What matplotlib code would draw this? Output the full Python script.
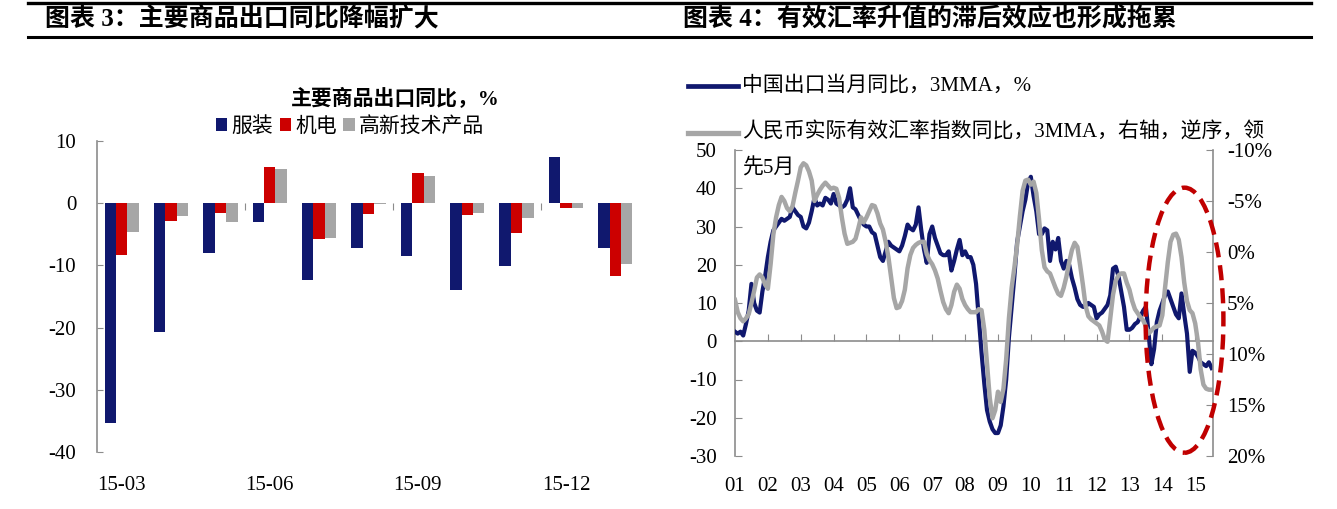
import numpy as np
import matplotlib
matplotlib.use('Agg')
import matplotlib.pyplot as plt
from matplotlib.patches import Ellipse, Patch
from matplotlib.lines import Line2D

MIX = ['Liberation Serif', 'Noto Sans CJK SC']
plt.rcParams['font.family'] = MIX

# ---------------- left chart data ----------------
bar_months = ['15-03', '15-04', '15-05', '15-06', '15-07', '15-08',
              '15-09', '15-10', '15-11', '15-12', '16-01']
bar_series_names = ['服装', '机电', '高新技术产品']
apparel = [-35.4, -20.7, -8.0, -3.0, -12.3, -7.2, -8.5, -13.9, -10.1, 7.4, -7.2]
electro = [-8.4, -2.9, -1.5, 5.9, -5.8, -1.7, 4.9, -1.9, -4.8, -0.7, -11.7]
hitech = [-4.7, -2.0, -3.1, 5.5, -5.6, -0.1, 4.4, -1.6, -2.3, -0.85, -9.8]
bar_yticks = [10, 0, -10, -20, -30, -40]

# ---------------- right chart data ----------------
year_labels = ['01', '02', '03', '04', '05', '06', '07', '08',
               '09', '10', '11', '12', '13', '14', '15']
export_yoy = [
    2.5, 2, 2.5, 1.5, 4.5, 8, 15, 10, 8, 7.5, 13, 17,
    22, 26, 29, 30, 31, 32, 31.5, 32, 32.5, 35, 34, 33,
    32.5, 30, 29.5, 31, 34, 37.5, 35.5, 36, 35.5, 37.5, 37, 36,
    38.5, 36, 35.5, 35, 35.5, 37, 40, 35, 34.5, 33, 31.5, 30.5,
    30, 30, 28.5, 28, 25, 22, 21, 23.5, 26, 25, 24.5, 24,
    23.5, 25, 27.5, 30.5, 29.5, 29, 30.5, 35, 29, 24, 20.5, 28,
    30, 27, 25, 23, 22.5, 22.5, 23.5, 18.5, 21, 24, 26.5, 22.5,
    23.5, 22, 22, 20, 15, 6, -3, -11, -18, -21, -23, -24,
    -24, -22, -17, -10, 1, 9, 17, 26, 30, 34, 37, 41.5,
    43, 38, 34, 28, 28, 29.5, 29, 21, 26, 24, 27, 21,
    19, 21, 20, 16.5, 14, 11, 9.5, 9, 9, 10, 9.5, 9,
    6, 7, 7.5, 8.5, 9.5, 12, 19, 19.5, 17, 13, 9, 3,
    3, 3.5, 4.5, 5, 6.5, 8, 9, 2, -6, -2, 5, 8,
    10, 12, 13, 11, 9, 7, 6, 12.5, 7, 2, -8, -2.5,
    -3, -4, -5.5, -6, -6.5, -5.5, -7]
reer_yoy_lead5 = [
    4.7, 5.9, 6.5, 6.8, 6.5, 6.1, 5.0, 3.8, 2.5, 2.2, 2.5, 3.2,
    3.6, 1.2, -1.7, -3.4, -4.6, -5.4, -5, -4.3, -4, -4.5, -5.8, -7,
    -8.3, -8.7, -8.5, -7.9, -7, -5, -5.6, -6.1, -6.5, -6.8, -6.5, -6.2,
    -6.3, -6.2, -5.3, -3.4, -1.8, -0.8, -0.9, -1, -1.3, -2.3, -3.4, -2.9,
    -3.4, -4, -4.6, -4.5, -3.8, -2.8, -2.2, -1, 0.5, 2.5, 4.5, 5.5,
    5.4, 4.8, 3.7, 1.6, 0.3, -0.4, -0.7, -0.9, -1, -1, 0.2, 0.8,
    1.2, 1.8, 2.6, 3.8, 4.9, 5.6, 6, 5.2, 3.9, 3.2, 3.6, 4.6,
    5.2, 5.6, 5.9, 5.9, 5.9, 5.6, 5.7, 7.6, 11, 14.3, 16.3, 15.5,
    13.7, 14.7, 13.4, 10.5, 6.5, 3.5, 1.5, -0.7, -3.5, -6, -7, -7.1,
    -6.6, -6.9, -5.8, -3.2, -0.2, 1.5, 1.9, 2.1, 2.8, 3.5, 4.1, 4.3,
    3.5, 2.4, 1, -0.2, -0.9, -0.5, 1.3, 3.2, 5.3, 6.3, 6.6, 6.8,
    7, 7.2, 7.8, 8.6, 8.8, 6.5, 4.2, 2.8, 2.3, 2.1, 2.1, 3,
    3.7, 4.8, 5.6, 6, 6.4, 6.7, 7.3, 8, 7.7, 7.4, 7.3, 7.2,
    6.2, 3.5, 1, -1, -1.7, -1.8, -1.2, 0.5, 3, 4.8, 5.7, 6,
    7, 8.8, 11.5, 13, 13.4, 13.5, 13.5]
left_yticks = [-30, -20, -10, 0, 10, 20, 30, 40, 50]
right_yticks = [-10, -5, 0, 5, 10, 15, 20]

# ---------------- styles ----------------
W, H = 1337, 509
NAVY = '#10186E'
RED = '#CC0000'
GRAY = '#A6A6A6'
AXC = '#8C8C8C'
TICKFS = 15


def fx(px):
    return px / W


def fy(py):
    return 1 - py / H


fig = plt.figure(figsize=(W / 100, H / 100), dpi=100)

# header rules and titles
for yy, lw in [(3, 2.4), (37, 2.2)]:
    fig.add_artist(Line2D([fx(28), fx(1311)], [fy(yy), fy(yy)], lw=lw, color='black'))
fig.text(fx(45), fy(19), '图表 3：主要商品出口同比降幅扩大', fontsize=18,
         fontweight='bold', va='center', ha='left', family=MIX)
fig.text(fx(683), fy(19), '图表 4：有效汇率升值的滞后效应也形成拖累', fontsize=18,
         fontweight='bold', va='center', ha='left', family=MIX)

# ---------------- left bar chart ----------------
axL = fig.add_axes([fx(97), fy(452), fx(640) - fx(97), fy(141) - fy(452)])
n = len(bar_months)
xc = np.arange(n)
bw = 0.232
axL.bar(xc - bw, apparel, bw, color=NAVY, zorder=3)
axL.bar(xc + bw, hitech, bw, color=GRAY, zorder=2)
axL.bar(xc, electro, bw, color=RED, zorder=3)
axL.set_xlim(-0.5, n - 0.5)
axL.set_ylim(-40, 10)
axL.set_yticks(bar_yticks)
axL.set_yticklabels([str(v) for v in bar_yticks])
for s in ['top', 'right', 'bottom']:
    axL.spines[s].set_visible(False)
axL.spines['left'].set_color(AXC)
axL.spines['left'].set_linewidth(1.2)
axL.tick_params(axis='y', direction='in', length=4, color=AXC, pad=15,
                labelsize=TICKFS)
label_idx = [bar_months.index(m) for m in ['15-03', '15-06', '15-09', '15-12']]
axL.set_xticks(label_idx)
axL.set_xticklabels([bar_months[i] for i in label_idx])
axL.tick_params(axis='x', length=0, pad=17, labelsize=TICKFS)
zero_frac = (0 - axL.get_ylim()[0]) / (axL.get_ylim()[1] - axL.get_ylim()[0])
secL = axL.secondary_xaxis(zero_frac)
secL.set_xticks([i - 0.5 for i in label_idx[1:]])
secL.set_xticklabels([])
secL.tick_params(direction='in', length=5, color=AXC)
secL.spines['bottom'].set_color(AXC)
secL.spines['bottom'].set_linewidth(1.2)
for s in ['top', 'left', 'right']:
    secL.spines[s].set_visible(False)

fig.text(fx(395), fy(100), '主要商品出口同比，%', fontsize=15, fontweight='bold',
         ha='center', va='center', family=MIX)
handles = [Patch(facecolor=c, edgecolor='none') for c in [NAVY, RED, GRAY]]
fig.legend(handles, bar_series_names, loc='center', bbox_to_anchor=(fx(350), fy(127)),
           ncol=3, frameon=False, fontsize=15, handlelength=0.55, handleheight=0.6,
           handletextpad=0.2, columnspacing=0.3, borderpad=0, borderaxespad=0)

# ---------------- right line chart ----------------
axR = fig.add_axes([fx(735), fy(456), fx(1213) - fx(735), fy(150) - fy(456)])
t = np.arange(len(export_yoy))
axR.plot(t, export_yoy, color=NAVY, lw=3.0, solid_joinstyle='round', zorder=3)
axR.set_xlim(0, 174.5)
axR.set_ylim(-30, 50)
axR.set_yticks(left_yticks)
axR.set_yticklabels([str(v) for v in left_yticks])
axR.set_xticks(np.arange(len(year_labels)) * 12)
axR.set_xticklabels(year_labels)
axR.tick_params(axis='x', length=0, pad=15, labelsize=TICKFS)
axR.tick_params(axis='y', direction='in', length=5, color=AXC, pad=13, labelsize=TICKFS)
for s in ['top', 'right', 'bottom']:
    axR.spines[s].set_visible(False)
axR.spines['left'].set_color(AXC)
axR.spines['left'].set_linewidth(1.2)
zr = (0 - axR.get_ylim()[0]) / (axR.get_ylim()[1] - axR.get_ylim()[0])
secR = axR.secondary_xaxis(zr)
secR.set_xticks(np.arange(1, len(year_labels)) * 12)
secR.set_xticklabels([])
secR.tick_params(direction='in', length=5, color=AXC)
secR.spines['bottom'].set_color(AXC)
secR.spines['bottom'].set_linewidth(1.2)
for s in ['top', 'left', 'right']:
    secR.spines[s].set_visible(False)

axR2 = axR.twinx()
axR2.plot(t, reer_yoy_lead5, color=GRAY, lw=3.2, solid_joinstyle='round', zorder=2)
axR2.set_ylim(20, -10)
axR2.set_yticks(right_yticks)
axR2.set_yticklabels([f'{v}%' for v in right_yticks])
axR2.tick_params(axis='y', direction='in', length=5, color=AXC, pad=10, labelsize=TICKFS)
for s in ['top', 'left', 'bottom']:
    axR2.spines[s].set_visible(False)
axR2.spines['right'].set_color(AXC)
axR2.spines['right'].set_linewidth(1.2)

ell = Ellipse((164.1, 5.5), 28.4, 69.3, transform=axR.transData, fill=False,
              edgecolor='#C00000', lw=3.2, linestyle=(0, (3.4, 1.8)), clip_on=False,
              zorder=10)
axR2.add_patch(ell)

# right chart legend
fig.add_artist(Line2D([fx(688), fx(738)], [fy(86), fy(86)], lw=3.4, color=NAVY))
fig.text(fx(742), fy(86), '中国出口当月同比，3MMA，%', fontsize=15, ha='left',
         va='center', family=MIX)
fig.add_artist(Line2D([fx(688), fx(738)], [fy(133), fy(133)], lw=3.8, color=GRAY))
fig.text(fx(742), fy(133), '人民币实际有效汇率指数同比，3MMA，右轴，逆序，领', fontsize=15,
         ha='left', va='center', family=MIX, zorder=20)
fig.text(fx(742), fy(168), '先5月', fontsize=15, ha='left', va='center', family=MIX,
         zorder=20)

fig.savefig('out.png', dpi=100)
